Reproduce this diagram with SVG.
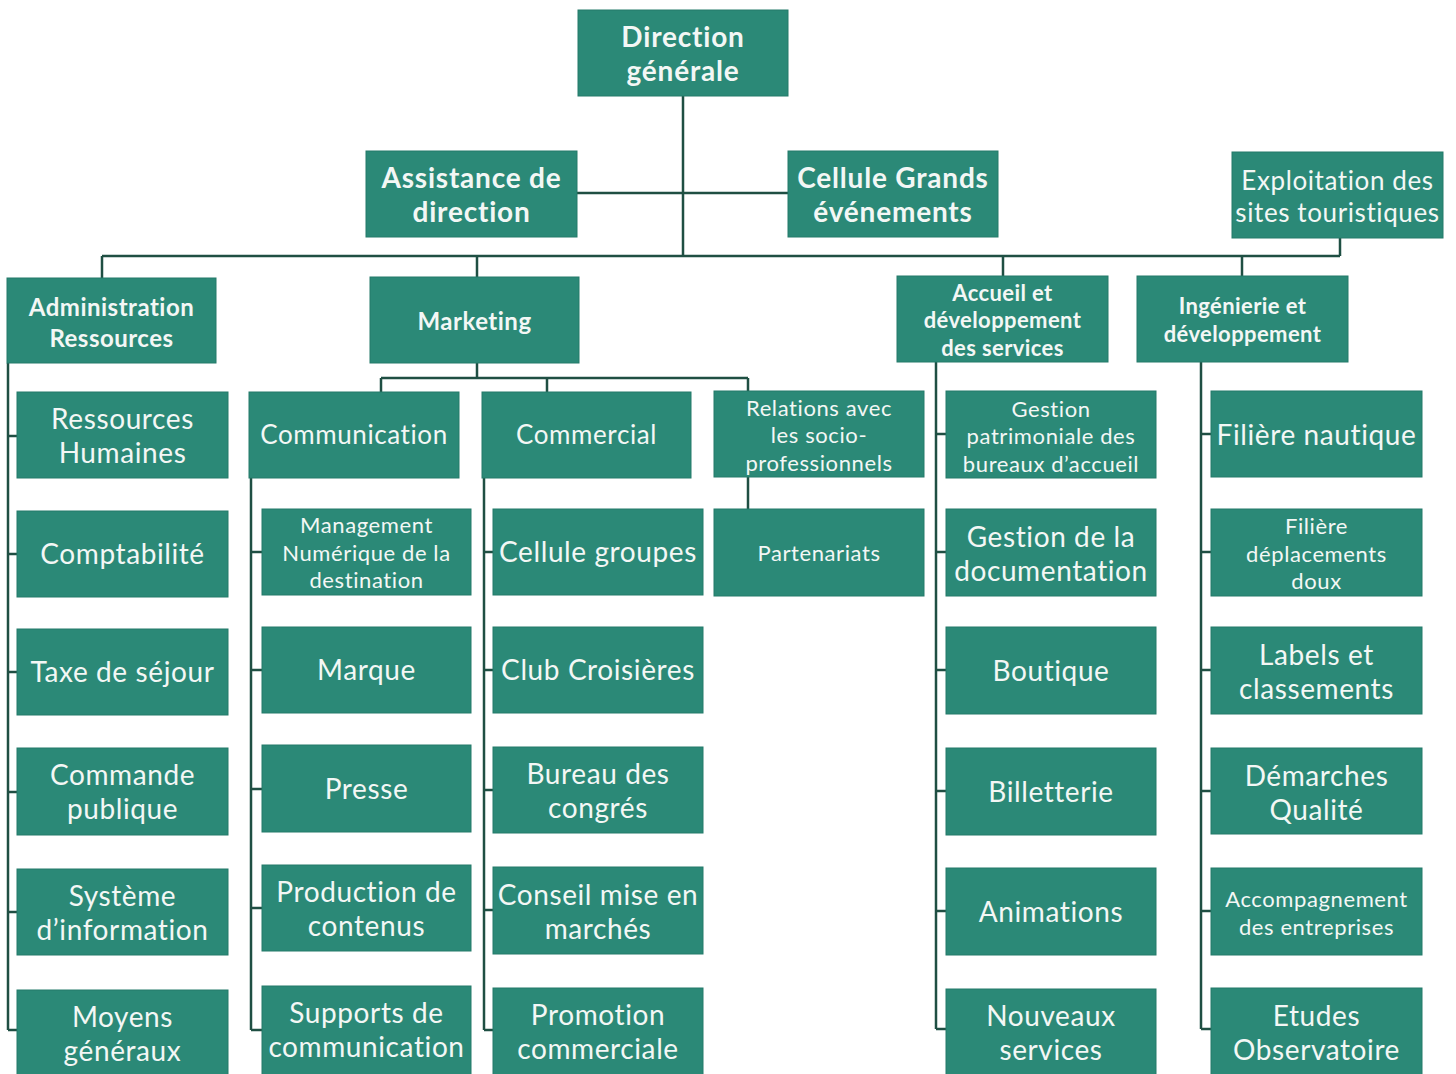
<svg xmlns="http://www.w3.org/2000/svg" width="1456" height="1074" viewBox="0 0 1456 1074">
<style>
.box{fill:#2b8977;stroke:#257a6a;stroke-width:1}
text{fill:#f3f7f5;font-family:Lato,"Open Sans",sans-serif;text-anchor:middle}
.h{font-weight:700;font-size:28px;letter-spacing:0.8px}
.h3{font-weight:700;font-size:24px;letter-spacing:0.5px}
.h3s{font-weight:700;font-size:22px;letter-spacing:0.4px}
.r{font-size:28px;letter-spacing:0.6px}
.rh{font-size:26px;letter-spacing:0.6px}
.s{font-size:22px;letter-spacing:0.6px}
.conn path{fill:none;stroke:#1f4f43;stroke-width:2.5}
</style>
<rect width="1456" height="1074" fill="#ffffff"/>
<g class="conn" id="connectors">
<path d="M683 96V256M577 193H788M102 256H1340M1340 238V256M102 256V278M477 256V277M1003 256V276M1242 256V276"/>
<path d="M477 363V378M381 378H748M381 378V392M547 378V392M748 378V391M748 477V509"/>
<path d="M8 363V1030M8 436H17M8 554H17M8 672H17M8 792H17M8 912H17M8 1030H17"/>
<path d="M251 478V1030M251 552H262M251 670H262M251 789H262M251 908H262M251 1030H262"/>
<path d="M484 478V1030M484 552H493M484 670H493M484 790H493M484 910H493M484 1030H493"/>
<path d="M936 362V1029M936 434H946M936 552H946M936 670H946M936 791H946M936 911H946M936 1029H946"/>
<path d="M1201 362V1029M1201 434H1211M1201 552H1211M1201 670H1211M1201 791H1211M1201 911H1211M1201 1029H1211"/>
</g>
<g id="direction-generale"><rect class="box" x="578" y="10" width="210" height="86"/><text class="h" x="683" y="47">Direction</text><text class="h" x="683" y="81">générale</text></g>
<g id="assistance"><rect class="box" x="366" y="151" width="211" height="86"/><text class="h" x="471.5" y="188">Assistance de</text><text class="h" x="471.5" y="222">direction</text></g>
<g id="cellule-grands"><rect class="box" x="788" y="151" width="210" height="86"/><text class="h" x="893" y="188">Cellule Grands</text><text class="h" x="893" y="222">événements</text></g>
<g id="exploitation"><rect class="box" x="1232" y="152" width="211" height="86"/><text class="rh" x="1337.5" y="190">Exploitation des</text><text class="rh" x="1337.5" y="222">sites touristiques</text></g>
<g id="administration"><rect class="box" x="7" y="278" width="209" height="85"/><text class="h3" x="111.5" y="316">Administration</text><text class="h3" x="111.5" y="347">Ressources</text></g>
<g id="marketing"><rect class="box" x="370" y="277" width="209" height="86"/><text class="h3" x="474.5" y="330">Marketing</text></g>
<g id="accueil"><rect class="box" x="897" y="276" width="211" height="86"/><text class="h3s" x="1002.5" y="301">Accueil et</text><text class="h3s" x="1002.5" y="328">développement</text><text class="h3s" x="1002.5" y="356">des services</text></g>
<g id="ingenierie"><rect class="box" x="1137" y="276" width="211" height="86"/><text class="h3s" x="1242.5" y="314">Ingénierie et</text><text class="h3s" x="1242.5" y="342">développement</text></g>
<g id="rh"><rect class="box" x="17" y="392" width="211" height="86"/><text class="r" x="122.5" y="429">Ressources</text><text class="r" x="122.5" y="463">Humaines</text></g>
<g id="comptabilite"><rect class="box" x="17" y="511" width="211" height="86"/><text class="r" x="122.5" y="564">Comptabilité</text></g>
<g id="taxe"><rect class="box" x="17" y="629" width="211" height="86"/><text class="r" x="122.5" y="682">Taxe de séjour</text></g>
<g id="commande"><rect class="box" x="17" y="748" width="211" height="87"/><text class="r" x="122.5" y="785">Commande</text><text class="r" x="122.5" y="819">publique</text></g>
<g id="systeme"><rect class="box" x="17" y="869" width="211" height="86"/><text class="r" x="122.5" y="906">Système</text><text class="r" x="122.5" y="940">d’information</text></g>
<g id="moyens"><rect class="box" x="17" y="990" width="211" height="90"/><text class="r" x="122.5" y="1027">Moyens</text><text class="r" x="122.5" y="1061">généraux</text></g>
<g id="communication"><rect class="box" x="249" y="392" width="210" height="86"/><text class="rh" x="354" y="444">Communication</text></g>
<g id="management"><rect class="box" x="262" y="509" width="209" height="86"/><text class="s" x="366.5" y="533">Management</text><text class="s" x="366.5" y="561">Numérique de la</text><text class="s" x="366.5" y="588">destination</text></g>
<g id="marque"><rect class="box" x="262" y="627" width="209" height="86"/><text class="r" x="366.5" y="680">Marque</text></g>
<g id="presse"><rect class="box" x="262" y="745" width="209" height="87"/><text class="r" x="366.5" y="799">Presse</text></g>
<g id="production"><rect class="box" x="262" y="865" width="209" height="86"/><text class="r" x="366.5" y="902">Production de</text><text class="r" x="366.5" y="936">contenus</text></g>
<g id="supports"><rect class="box" x="262" y="986" width="209" height="94"/><text class="r" x="366.5" y="1023">Supports de</text><text class="r" x="366.5" y="1057">communication</text></g>
<g id="commercial"><rect class="box" x="482" y="392" width="209" height="86"/><text class="rh" x="586.5" y="444">Commercial</text></g>
<g id="cellule-groupes"><rect class="box" x="493" y="509" width="210" height="86"/><text class="r" x="598" y="562">Cellule groupes</text></g>
<g id="club"><rect class="box" x="493" y="627" width="210" height="86"/><text class="r" x="598" y="680">Club Croisières</text></g>
<g id="bureau"><rect class="box" x="493" y="747" width="210" height="86"/><text class="r" x="598" y="784">Bureau des</text><text class="r" x="598" y="818">congrés</text></g>
<g id="conseil"><rect class="box" x="493" y="867" width="210" height="87"/><text class="r" x="598" y="905">Conseil mise en</text><text class="r" x="598" y="939">marchés</text></g>
<g id="promotion"><rect class="box" x="493" y="988" width="210" height="92"/><text class="r" x="598" y="1025">Promotion</text><text class="r" x="598" y="1059">commerciale</text></g>
<g id="relations"><rect class="box" x="714" y="391" width="210" height="86"/><text class="s" x="819" y="416">Relations avec</text><text class="s" x="819" y="443">les socio-</text><text class="s" x="819" y="471">professionnels</text></g>
<g id="partenariats"><rect class="box" x="714" y="509" width="210" height="87"/><text class="s" x="819" y="561">Partenariats</text></g>
<g id="gestion-patrimoniale"><rect class="box" x="946" y="391" width="210" height="87"/><text class="s" x="1051" y="417">Gestion</text><text class="s" x="1051" y="444">patrimoniale des</text><text class="s" x="1051" y="472">bureaux d’accueil</text></g>
<g id="documentation"><rect class="box" x="946" y="509" width="210" height="87"/><text class="r" x="1051" y="547">Gestion de la</text><text class="r" x="1051" y="581">documentation</text></g>
<g id="boutique"><rect class="box" x="946" y="627" width="210" height="87"/><text class="r" x="1051" y="681">Boutique</text></g>
<g id="billetterie"><rect class="box" x="946" y="748" width="210" height="87"/><text class="r" x="1051" y="802">Billetterie</text></g>
<g id="animations"><rect class="box" x="946" y="868" width="210" height="87"/><text class="r" x="1051" y="922">Animations</text></g>
<g id="nouveaux"><rect class="box" x="946" y="989" width="210" height="91"/><text class="r" x="1051" y="1026">Nouveaux</text><text class="r" x="1051" y="1060">services</text></g>
<g id="nautique"><rect class="box" x="1211" y="391" width="211" height="86"/><text class="r" x="1316.5" y="445">Filière nautique</text></g>
<g id="deplacements"><rect class="box" x="1211" y="509" width="211" height="87"/><text class="s" x="1316.5" y="534">Filière</text><text class="s" x="1316.5" y="562">déplacements</text><text class="s" x="1316.5" y="589">doux</text></g>
<g id="labels"><rect class="box" x="1211" y="627" width="211" height="87"/><text class="r" x="1316.5" y="665">Labels et</text><text class="r" x="1316.5" y="699">classements</text></g>
<g id="demarches"><rect class="box" x="1211" y="748" width="211" height="86"/><text class="r" x="1316.5" y="786">Démarches</text><text class="r" x="1316.5" y="820">Qualité</text></g>
<g id="accompagnement"><rect class="box" x="1211" y="868" width="211" height="87"/><text class="s" x="1316.5" y="907">Accompagnement</text><text class="s" x="1316.5" y="935">des entreprises</text></g>
<g id="etudes"><rect class="box" x="1211" y="988" width="211" height="92"/><text class="r" x="1316.5" y="1026">Etudes</text><text class="r" x="1316.5" y="1060">Observatoire</text></g>
</svg>
